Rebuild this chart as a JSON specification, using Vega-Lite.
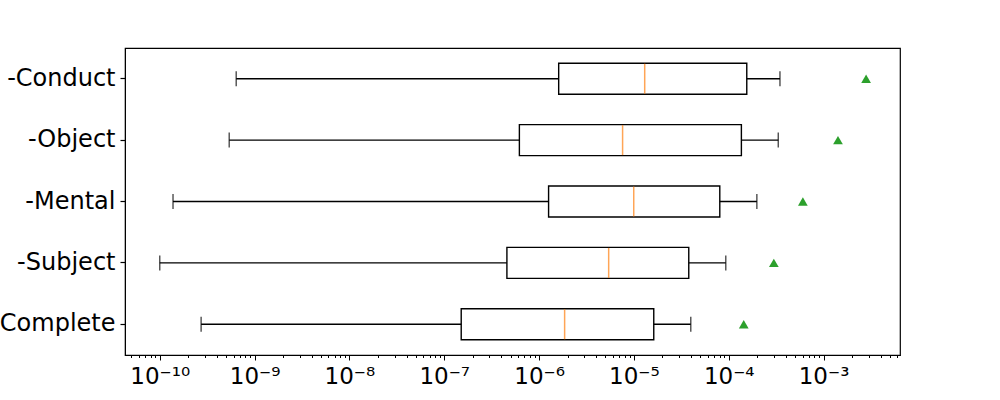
{
  "$schema": "https://vega.github.io/schema/vega-lite/v6.json",
  "width": 775,
  "height": 307,
  "autosize": {"type": "none"},
  "padding": {"left": 125, "top": 48, "right": 100, "bottom": 45},
  "background": "white",
  "config": {
    "view": {"stroke": "black", "strokeWidth": 1.2},
    "font": "DejaVu Sans",
    "axis": {"grid": false, "domainColor": "black", "tickColor": "black", "labelColor": "black", "labelFont": "DejaVu Sans"}
  },
  "data": {
    "values": [
      {"group": "-Conduct", "low": 6.4e-10, "q1": 1.61e-6, "median": 1.30e-5, "q3": 1.55e-4, "high": 3.47e-4, "mean": 2.81e-3},
      {"group": "-Object", "low": 5.4e-10, "q1": 6.2e-7, "median": 7.6e-6, "q3": 1.36e-4, "high": 3.33e-4, "mean": 1.42e-3},
      {"group": "-Mental", "low": 1.38e-10, "q1": 1.26e-6, "median": 9.96e-6, "q3": 8.05e-5, "high": 1.98e-4, "mean": 6.05e-4},
      {"group": "-Subject", "low": 1.0e-10, "q1": 4.58e-7, "median": 5.42e-6, "q3": 3.79e-5, "high": 9.31e-5, "mean": 2.99e-4},
      {"group": "Complete", "low": 2.73e-10, "q1": 1.51e-7, "median": 1.86e-6, "q3": 1.62e-5, "high": 3.98e-5, "mean": 1.44e-4}
    ]
  },
  "encoding": {
    "y": {
      "field": "group",
      "type": "nominal",
      "sort": ["-Conduct", "-Object", "-Mental", "-Subject", "Complete"],
      "scale": {"type": "band", "paddingInner": 0, "paddingOuter": 0},
      "axis": {"title": null, "labelFontSize": 24, "tickSize": 5, "labelPadding": 5, "domain": true, "tickWidth": 1.2}
    }
  },
  "layer": [
    {
      "mark": {"type": "rule", "color": "black", "strokeWidth": 1.4},
      "encoding": {
        "x": {
          "field": "low",
          "type": "quantitative",
          "scale": {"type": "log", "domain": [4.3e-11, 6.4e-3], "nice": false},
          "axis": {
            "title": null,
            "labelFontSize": 23,
            "labelOverlap": false,
            "labelFlush": false,
            "labelPadding": 5,
            "tickWidth": 1.0,
            "tickSize": {"condition": {"test": "abs(log(datum.value)/LN10 - round(log(datum.value)/LN10)) < 0.001", "value": 5}, "value": 2.5},
            "values": [5e-11, 6e-11, 7e-11, 8e-11, 9e-11,
              1e-10, 2e-10, 3e-10, 4e-10, 5e-10, 6e-10, 7e-10, 8e-10, 9e-10,
              1e-9, 2e-9, 3e-9, 4e-9, 5e-9, 6e-9, 7e-9, 8e-9, 9e-9,
              1e-8, 2e-8, 3e-8, 4e-8, 5e-8, 6e-8, 7e-8, 8e-8, 9e-8,
              1e-7, 2e-7, 3e-7, 4e-7, 5e-7, 6e-7, 7e-7, 8e-7, 9e-7,
              1e-6, 2e-6, 3e-6, 4e-6, 5e-6, 6e-6, 7e-6, 8e-6, 9e-6,
              1e-5, 2e-5, 3e-5, 4e-5, 5e-5, 6e-5, 7e-5, 8e-5, 9e-5,
              1e-4, 2e-4, 3e-4, 4e-4, 5e-4, 6e-4, 7e-4, 8e-4, 9e-4,
              1e-3, 2e-3, 3e-3, 4e-3, 5e-3, 6e-3],
            "labelExpr": "abs(log(datum.value)/LN10 - round(log(datum.value)/LN10)) < 0.001 ? ['10⁻¹⁰','10⁻⁹','10⁻⁸','10⁻⁷','10⁻⁶','10⁻⁵','10⁻⁴','10⁻³'][round(log(datum.value)/LN10) + 10] : ''"
          }
        },
        "x2": {"field": "high"}
      }
    },
    {
      "mark": {"type": "tick", "orient": "vertical", "color": "black", "size": 15, "thickness": 1.4},
      "encoding": {"x": {"field": "low", "type": "quantitative"}}
    },
    {
      "mark": {"type": "tick", "orient": "vertical", "color": "black", "size": 15, "thickness": 1.4},
      "encoding": {"x": {"field": "high", "type": "quantitative"}}
    },
    {
      "mark": {"type": "bar", "fill": "white", "stroke": "black", "strokeWidth": 1.4, "size": 31},
      "encoding": {
        "x": {"field": "q1", "type": "quantitative"},
        "x2": {"field": "q3"}
      }
    },
    {
      "mark": {"type": "tick", "orient": "vertical", "color": "#ff7f0e", "size": 30, "thickness": 1.5},
      "encoding": {"x": {"field": "median", "type": "quantitative"}}
    },
    {
      "mark": {"type": "point", "shape": "triangle-up", "filled": true, "color": "#2ca02c", "size": 95, "opacity": 1},
      "encoding": {"x": {"field": "mean", "type": "quantitative"}}
    }
  ]
}
